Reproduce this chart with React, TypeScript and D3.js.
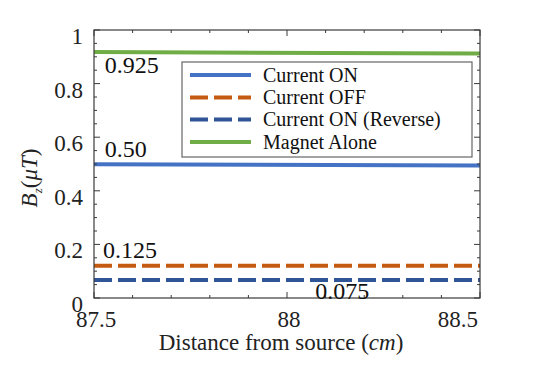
import React from "react";
import * as d3 from "d3";

const xDomain: [number, number] = [87.5, 88.5];
const yDomain: [number, number] = [0, 1];
const xPoints = [87.5, 88.5];
const currentOn = [0.499, 0.494];
const currentOff = [0.12, 0.12];
const currentOnReverse = [0.067, 0.067];
const magnetAlone = [0.918, 0.912];
const xTickLabels = [87.5, 88, 88.5];
const yTickLabels = [0, 0.2, 0.4, 0.6, 0.8, 1];
const seriesNames = ["Current ON", "Current OFF", "Current ON (Reverse)", "Magnet Alone"];
const annotations = [
  { text: "0.925", x: 87.528, y: 0.838 },
  { text: "0.50", x: 87.528, y: 0.527 },
  { text: "0.125", x: 87.523, y: 0.149 },
  { text: "0.075", x: 88.073, y: -0.004 },
];

const W = 538, H = 367;
const L = 94, R = 480, T = 30, B = 298;
const FONT = "'Liberation Serif', 'Times New Roman', serif";

const styles = [
  { color: "#4472C4", dash: null },
  { color: "#C55A11", dash: "18 6" },
  { color: "#2F5597", dash: "18 6" },
  { color: "#70AD47", dash: null },
];

export default function App() {
  const x = d3.scaleLinear().domain(xDomain).range([L, R]);
  const y = d3.scaleLinear().domain(yDomain).range([B, T]);
  const series = [currentOn, currentOff, currentOnReverse, magnetAlone];
  const line = d3
    .line<[number, number]>()
    .x((d) => x(d[0]))
    .y((d) => y(d[1]));

  const xMinor = d3.range(0, 11).map((i) => 87.5 + i * 0.1);
  const yMinor = d3.range(0, 21).map((i) => i * 0.05);
  const frame = "#3a3a3a";

  const legendX = 182, legendY = 62, legendW = 290, legendH = 95;
  const rowYs = [75, 97.5, 119.5, 142];

  return (
    <svg width={W} height={H} style={{ position: "absolute", left: 0, top: 0, background: "#fff" }}>
      {/* series */}
      {series.map((vals, i) => (
        <path
          key={i}
          d={line(xPoints.map((xv, j) => [xv, vals[j]]) as [number, number][]) || ""}
          fill="none"
          stroke={styles[i].color}
          strokeWidth={4}
          strokeDasharray={styles[i].dash || undefined}
        />
      ))}
      {/* frame */}
      <rect x={L} y={T} width={R - L} height={B - T} fill="none" stroke={frame} strokeWidth={1.2} />
      {/* ticks */}
      {xMinor.map((v, i) => {
        const major = i % 5 === 0;
        const len = major ? 6 : 3;
        return (
          <g key={"xt" + i}>
            <line x1={x(v)} x2={x(v)} y1={B} y2={B - len} stroke={frame} strokeWidth={1} />
            <line x1={x(v)} x2={x(v)} y1={T} y2={T + len} stroke={frame} strokeWidth={1} />
          </g>
        );
      })}
      {yMinor.map((v, i) => {
        const major = i % 4 === 0;
        const len = major ? 6 : 3;
        return (
          <g key={"yt" + i}>
            <line x1={L} x2={L + len} y1={y(v)} y2={y(v)} stroke={frame} strokeWidth={1} />
            <line x1={R} x2={R - len} y1={y(v)} y2={y(v)} stroke={frame} strokeWidth={1} />
          </g>
        );
      })}
      {/* tick labels */}
      {yTickLabels.map((v) => (
        <text key={"yl" + v} x={L - 11} y={y(v) + 14} textAnchor="end" fontFamily={FONT} fontSize={23} fill="#222">
          {String(v)}
        </text>
      ))}
      {xTickLabels.map((v, i) => (
        <text
          key={"xl" + v}
          x={i === xTickLabels.length - 1 ? x(v) - 2 : x(v) + 2}
          y={327}
          textAnchor={i === xTickLabels.length - 1 ? "end" : "middle"}
          fontFamily={FONT}
          fontSize={23}
          fill="#222"
        >
          {String(v)}
        </text>
      ))}
      {/* axis labels */}
      <text x={281} y={350} textAnchor="middle" fontFamily={FONT} fontSize={23} fill="#222">
        Distance from source (<tspan fontStyle="italic">cm</tspan>)
      </text>
      <text
        transform="translate(37,178) rotate(-90)"
        textAnchor="middle"
        fontFamily={FONT}
        fontSize={23}
        fill="#222"
      >
        <tspan fontStyle="italic">B</tspan>
        <tspan fontStyle="italic" fontSize={13} dy={5}>z</tspan>
        <tspan dy={-5}>(</tspan>
        <tspan fontStyle="italic">μT</tspan>
        <tspan>)</tspan>
      </text>
      {/* annotations */}
      {annotations.map((a) => (
        <text key={a.text} x={x(a.x)} y={y(a.y)} fontFamily={FONT} fontSize={24} fill="#111">
          {a.text}
        </text>
      ))}
      {/* legend */}
      <rect x={legendX} y={legendY} width={legendW} height={legendH} fill="#fff" stroke="#666" strokeWidth={1.2} />
      {seriesNames.map((name, i) => (
        <g key={name}>
          <line
            x1={190}
            x2={251}
            y1={rowYs[i]}
            y2={rowYs[i]}
            stroke={styles[i].color}
            strokeWidth={4}
            strokeDasharray={styles[i].dash || undefined}
          />
          <text x={263} y={rowYs[i] + 6.5} fontFamily={FONT} fontSize={20} fill="#111">
            {name}
          </text>
        </g>
      ))}
    </svg>
  );
}
